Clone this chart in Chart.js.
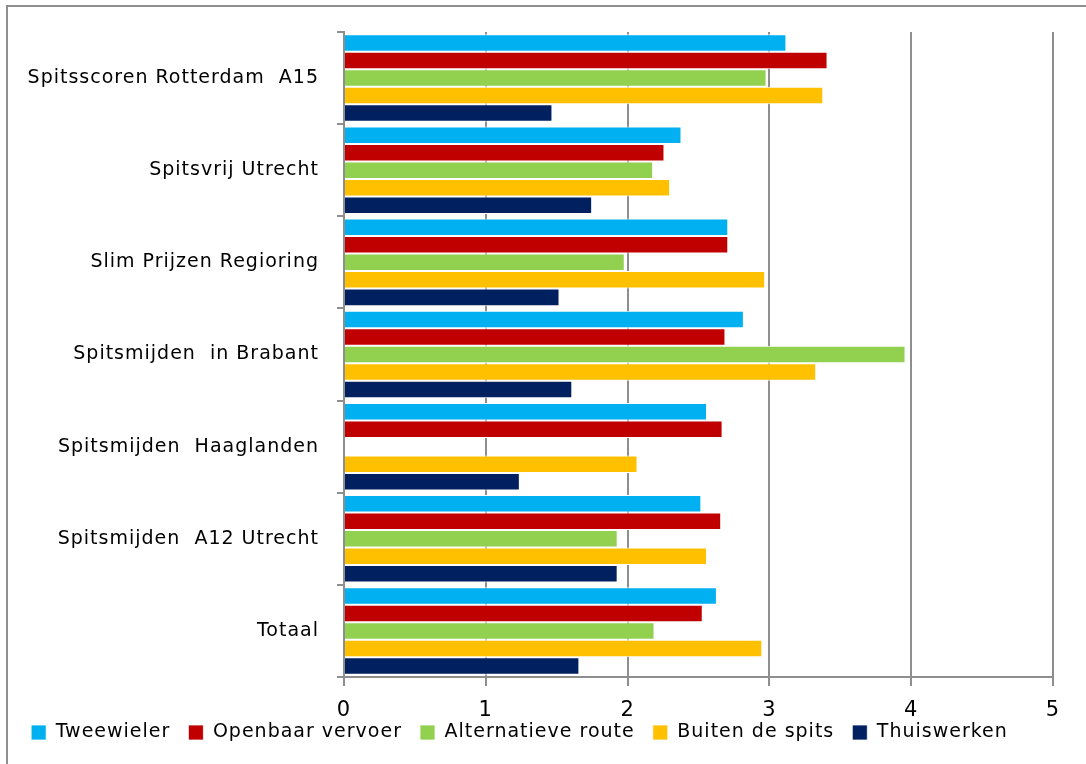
<!DOCTYPE html>
<html>
<head>
<meta charset="utf-8">
<script src="https://cdn.jsdelivr.net/npm/chart.js@4"></script>
<style>
  html, body { margin: 0; padding: 0; background: #fff; }
  .wrap { position: relative; width: 1086px; height: 764px; overflow: hidden; }
  .frame { position: absolute; left: 6px; top: 5px; width: 1100px; height: 800px; border: 2px solid #8e8e8e; box-sizing: border-box; }
  canvas { position: absolute; left: 0; top: 0; }
</style>
</head>
<body>
<div class="wrap">
  <div class="frame"></div>
  <canvas id="chart" width="1086" height="764"></canvas>
</div>
<script>
const categories = [
  'Spitsscoren Rotterdam  A15',
  'Spitsvrij Utrecht',
  'Slim Prijzen Regioring',
  'Spitsmijden  in Brabant',
  'Spitsmijden  Haaglanden',
  'Spitsmijden  A12 Utrecht',
  'Totaal'
];
const xTicks = [0, 1, 2, 3, 4, 5];

const tweewieler = [3.12, 2.38, 2.71, 2.82, 2.56, 2.52, 2.63];
const openbaarVervoer = [3.41, 2.26, 2.71, 2.69, 2.67, 2.66, 2.53];
const alternatieveRoute = [2.98, 2.18, 1.98, 3.96, null, 1.93, 2.19];
const buitenDeSpits = [3.38, 2.30, 2.97, 3.33, 2.07, 2.56, 2.95];
const thuiswerken = [1.47, 1.75, 1.52, 1.61, 1.24, 1.93, 1.66];

const series = [
  { label: 'Tweewieler', data: tweewieler, color: '#00b0f0' },
  { label: 'Openbaar vervoer', data: openbaarVervoer, color: '#c00000' },
  { label: 'Alternatieve route', data: alternatieveRoute, color: '#92d050' },
  { label: 'Buiten de spits', data: buitenDeSpits, color: '#ffc000' },
  { label: 'Thuiswerken', data: thuiswerken, color: '#002060' }
];

const FONT = '"DejaVu Sans", Verdana, sans-serif';
const GRID = '#8e8e8e';

// wider tracking on all canvas text; set before layout so the measured widths include it
const setSpacing = chart => { chart.ctx.letterSpacing = '1px'; };
const letterSpacing = {
  id: 'letterSpacing',
  beforeUpdate: setSpacing,
  beforeLayout: setSpacing,
  beforeDraw: setSpacing
};

// trailing spaces widen the gap between legend items without adding row height
const legendLabels = chart =>
  Chart.defaults.plugins.legend.labels.generateLabels(chart)
    .map(item => ({ ...item, text: item.text + '  ' }));

new Chart(document.getElementById('chart'), {
  type: 'bar',
  data: {
    labels: categories,
    datasets: series.map(s => ({
      label: s.label,
      data: s.data,
      backgroundColor: s.color,
      borderColor: '#ffffff',
      borderWidth: { top: 1, bottom: 1, left: 0, right: 1 },
      borderSkipped: 'left',
      categoryPercentage: 0.95,
      barPercentage: 1
    }))
  },
  plugins: [letterSpacing],
  options: {
    indexAxis: 'y',
    responsive: false,
    animation: false,
    layout: { padding: { top: 32, right: 33, left: 0, bottom: 12 } },
    plugins: {
      tooltip: { enabled: false },
      legend: {
        position: 'bottom',
        labels: {
          font: { family: FONT, size: 19 },
          color: '#000',
          boxWidth: 15,
          boxHeight: 15,
          padding: 4,
          generateLabels: legendLabels
        }
      }
    },
    scales: {
      x: {
        min: 0,
        max: 5,
        afterBuildTicks: scale => { scale.ticks = xTicks.map(v => ({ value: v })); },
        afterFit: scale => { scale.height = 42; },
        grid: { color: GRID, lineWidth: 2, tickLength: 9 },
        border: { color: GRID, width: 2 },
        ticks: { font: { family: FONT, size: 21 }, color: '#000', padding: 12 }
      },
      y: {
        afterFit: scale => { scale.width = 344; },
        grid: { offset: true, drawOnChartArea: false, color: GRID, lineWidth: 2, tickLength: 7 },
        border: { color: GRID, width: 2 },
        ticks: { font: { family: FONT, size: 19 }, color: '#000', padding: 18 }
      }
    }
  }
});
</script>
</body>
</html>
